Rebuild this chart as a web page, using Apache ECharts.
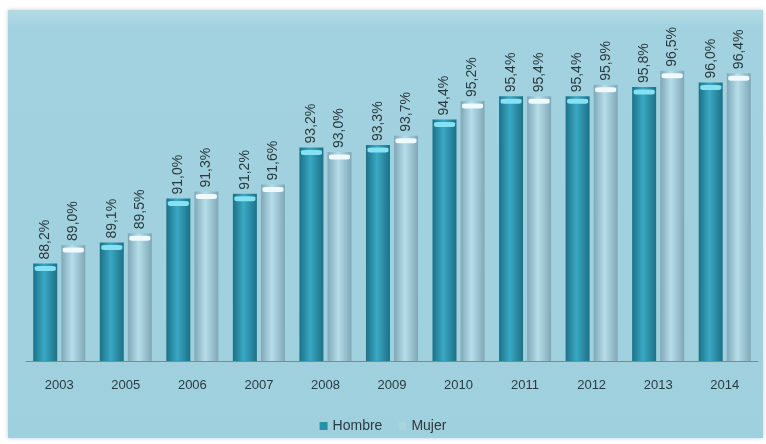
<!DOCTYPE html>
<html>
<head>
<meta charset="utf-8">
<script src="https://cdn.jsdelivr.net/npm/echarts@6/dist/echarts.min.js"></script>
<style>
html,body{margin:0;padding:0;background:#fff;}
#c{width:766px;height:444px;}
</style>
</head>
<body>
<div id="c"></div>
<script>
const categories = ['2003','2005','2006','2007','2008','2009','2010','2011','2012','2013','2014'];
const hombre = [88.2, 89.1, 91.0, 91.2, 93.2, 93.3, 94.4, 95.4, 95.4, 95.8, 96.0];
const mujer  = [89.0, 89.5, 91.3, 91.6, 93.0, 93.7, 95.2, 95.4, 95.9, 96.5, 96.4];
const seriesNames = ['Hombre', 'Mujer'];

const chart = echarts.init(document.getElementById('c'));
const fmt = p => p.value.toFixed(1).replace('.', ',') + '%';
const grad = (a, b) => new echarts.graphic.LinearGradient(0, 0, 1, 0, [
  {offset: 0, color: a}, {offset: 0.45, color: b}, {offset: 1, color: a}
]);
const FONT = 'Liberation Sans, Arial, sans-serif';
const labelCfg = {
  show: true, position: 'top', rotate: 90, align: 'left', verticalAlign: 'middle',
  distance: 4, formatter: fmt, color: '#2b3a40', fontSize: 14, fontFamily: FONT
};
const capCfg = {
  type: 'pictorialBar', barGap: '-100%', symbol: 'roundRect', symbolSize: [21, 5],
  symbolPosition: 'end', z: 5, silent: true, legendHoverLink: false
};
chart.setOption({
  backgroundColor: '#ffffff',
  animation: false,
  graphic: [{
    type: 'rect', shape: {x: 8, y: 10, width: 755, height: 428},
    style: {
      fill: new echarts.graphic.LinearGradient(0, 0, 0, 1, [
        {offset: 0, color: '#b3dbe6'}, {offset: 0.04, color: '#a2d2df'}, {offset: 1, color: '#9fd0dd'}
      ]),
      shadowBlur: 4, shadowColor: 'rgba(80,110,140,0.35)'
    },
    z: -10
  }],
  grid: {left: 26, right: 8, top: 36, bottom: 83},
  legend: {
    data: [
      {name: seriesNames[0], itemStyle: {color: '#2a8fa9'}},
      {name: seriesNames[1], itemStyle: {color: '#a9d3df'}}
    ],
    top: 414, left: 'center', itemWidth: 8, itemHeight: 8, itemGap: 16,
    icon: 'rect',
    textStyle: {color: '#2b3a40', fontSize: 14, fontFamily: FONT}
  },
  xAxis: {
    type: 'category', data: categories,
    axisLine: {lineStyle: {color: '#6f8e98', width: 1}},
    axisTick: {show: false},
    axisLabel: {color: '#2b3a40', fontSize: 13, margin: 18, fontFamily: FONT}
  },
  yAxis: {type: 'value', min: 84, max: 98, show: false, splitLine: {show: false}},
  series: [
    {name: 'Hombre', type: 'bar', data: hombre, barWidth: 24, barGap: '17%',
     itemStyle: {color: grad('#1c7186', '#3aa8c4')}, label: labelCfg},
    {name: 'Mujer', type: 'bar', data: mujer, barWidth: 24,
     itemStyle: {color: grad('#7fa8b7', '#b6dde9')}, label: labelCfg},
    Object.assign({}, capCfg, {name: 'Hombre', data: hombre, symbolOffset: [-14, '50%'],
     itemStyle: {color: '#86e2f3'}}),
    Object.assign({}, capCfg, {name: 'Mujer', data: mujer, symbolOffset: [14, '50%'],
     itemStyle: {color: '#f0fafc'}})
  ]
});
</script>
</body>
</html>
